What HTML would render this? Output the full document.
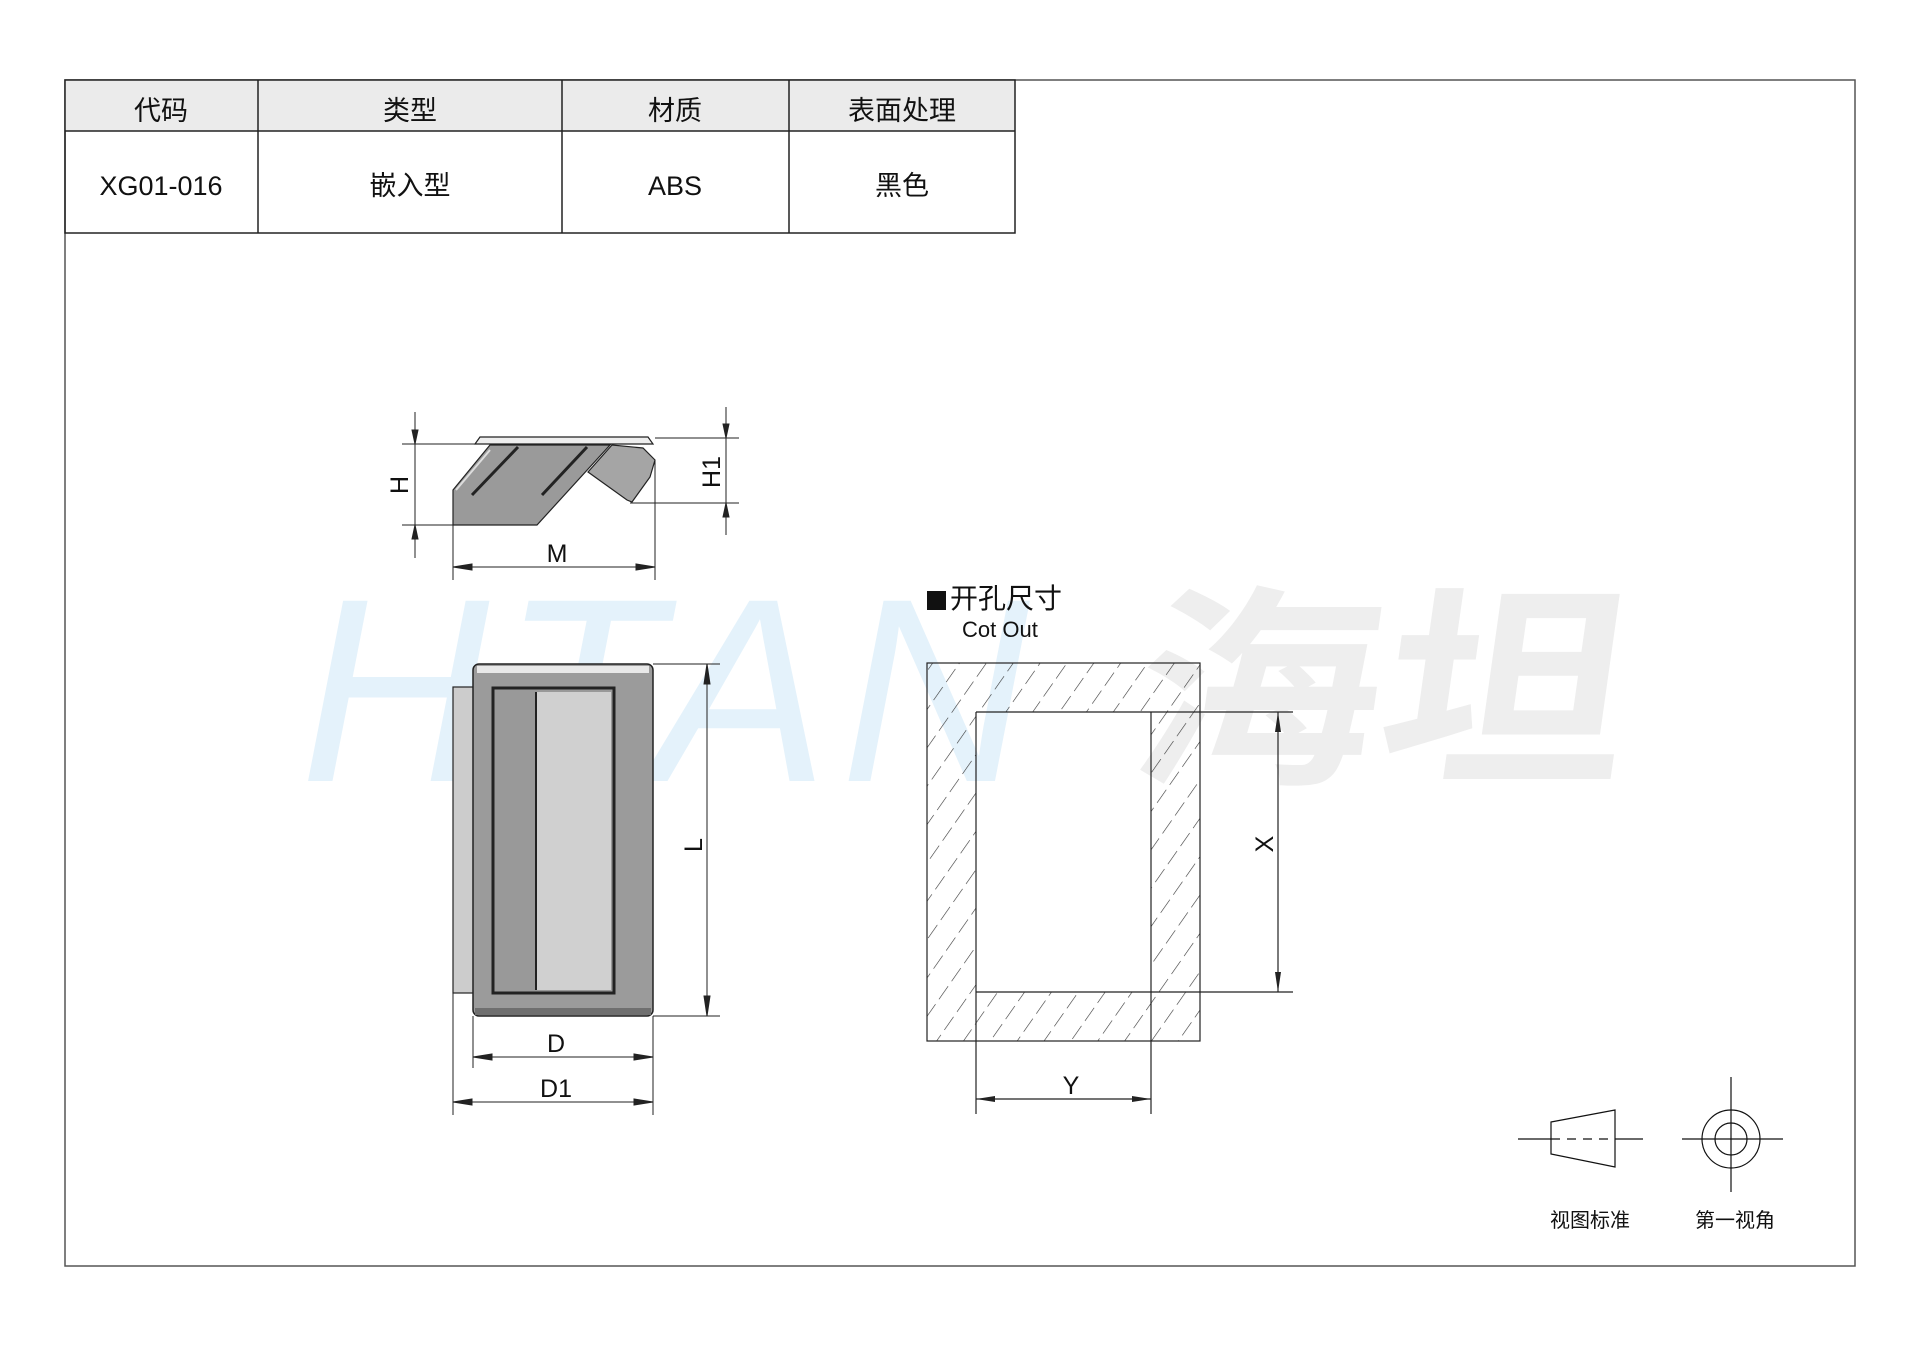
<!DOCTYPE html>
<html><head><meta charset="utf-8"><style>
html,body{margin:0;padding:0;background:#fff;}
body{width:1920px;height:1357px;position:relative;overflow:hidden;font-family:"Liberation Sans","Noto Sans CJK SC",sans-serif;}
svg{position:absolute;left:0;top:0;}
</style></head><body>
<svg width="1920" height="1357" viewBox="0 0 1920 1357" xmlns="http://www.w3.org/2000/svg" font-family="Liberation Sans, Noto Sans CJK SC, sans-serif">
<defs>
<pattern id="hatch" patternUnits="userSpaceOnUse" width="22" height="22" patternTransform="rotate(35)">
<line x1="0" y1="0" x2="0" y2="22" stroke="#333" stroke-width="1.2" stroke-dasharray="16 6"/>
</pattern>
</defs>
<!-- watermark -->
<text x="300" y="781" font-size="262" fill="#e4f2fb" font-style="italic" letter-spacing="12">HTAN</text>
<text x="0" y="0" font-size="215" fill="#eeeeee" font-weight="bold" font-family="Noto Sans CJK SC, sans-serif" transform="translate(1125,768) skewX(-8) scale(1.15,1)">海坦</text>

<!-- frame -->
<rect x="65" y="80" width="1790" height="1186" fill="none" stroke="#555" stroke-width="1.5"/>
<!-- table -->
<rect x="65" y="80" width="950" height="51" fill="#ebebeb"/>
<g stroke="#222" stroke-width="1.5" fill="none">
<rect x="65" y="80" width="950" height="153"/>
<line x1="65" y1="131" x2="1015" y2="131"/>
<line x1="258" y1="80" x2="258" y2="233"/>
<line x1="562" y1="80" x2="562" y2="233"/>
<line x1="789" y1="80" x2="789" y2="233"/>
</g>
<g font-size="27" text-anchor="middle" fill="#111">
<text x="161" y="120">代码</text>
<text x="410" y="120">类型</text>
<text x="675" y="120">材质</text>
<text x="902" y="120">表面处理</text>
<text x="161" y="195">XG01-016</text>
<text x="410" y="195">嵌入型</text>
<text x="675" y="195">ABS</text>
<text x="902" y="195">黑色</text>
</g>

<!-- top view -->
<g stroke="#222" stroke-width="1.2">
<polygon points="453,490 490,445 610,445 537,525 453,525" fill="#9a9a9a"/>
<polygon points="588,472 612,445 643,448 655,460 650,477 632,502 627,500" fill="#a5a5a5"/>
<polygon points="475,444 480,437 648,437 653,444" fill="#eee"/>
<line x1="472" y1="495" x2="518" y2="447" stroke-width="3"/>
<line x1="542" y1="495" x2="587" y2="447" stroke-width="3"/>
<line x1="456" y1="490" x2="490" y2="450" stroke="#ddd" stroke-width="2"/>
</g>
<g stroke="#222" stroke-width="1" fill="#222">
<line x1="415" y1="412" x2="415" y2="558"/>
<line x1="402" y1="444" x2="475" y2="444"/>
<line x1="402" y1="525" x2="453" y2="525"/>
<polygon points="415,444 412,430 418,430"/><polygon points="415,525 412,539 418,539"/>
<line x1="726" y1="407" x2="726" y2="535"/>
<line x1="655" y1="438" x2="739" y2="438"/>
<line x1="630" y1="503" x2="739" y2="503"/>
<polygon points="726,438 723,424 729,424"/><polygon points="726,503 723,517 729,517"/>
<line x1="453" y1="525" x2="453" y2="580"/>
<line x1="655" y1="460" x2="655" y2="580"/>
<line x1="453" y1="567" x2="655" y2="567"/>
<polygon points="453,567 472,564 472,570"/><polygon points="655,567 636,564 636,570"/>
</g>
<g font-size="25" fill="#111" text-anchor="middle">
<text x="557" y="562">M</text>
<text transform="translate(408,485) rotate(-90)">H</text>
<text transform="translate(720,472) rotate(-90)">H1</text>
</g>

<!-- front view -->
<g stroke="#222">
<rect x="453" y="687" width="22" height="306" fill="#ccc" stroke-width="1.2"/>
<rect x="473" y="664" width="180" height="352" rx="6" fill="#9b9b9b" stroke-width="1.5"/>
<rect x="477" y="666" width="172" height="7" fill="#e8e8e8" stroke="none"/>
<rect x="475" y="1008" width="176" height="7" fill="#6f6f6f" stroke="none"/>
<rect x="493" y="688" width="121" height="305" fill="#999" stroke-width="3"/>
<rect x="537" y="692" width="74" height="298" fill="#d0d0d0" stroke="none"/>
<line x1="536" y1="692" x2="536" y2="990" stroke-width="2"/>
</g>
<g stroke="#222" stroke-width="1" fill="#222">
<line x1="653" y1="664" x2="720" y2="664"/>
<line x1="653" y1="1016" x2="720" y2="1016"/>
<line x1="707" y1="664" x2="707" y2="1016"/>
<polygon points="707,664 704,684 710,684"/><polygon points="707,1016 704,996 710,996"/>
<line x1="473" y1="1016" x2="473" y2="1068"/>
<line x1="653" y1="1016" x2="653" y2="1115"/>
<line x1="453" y1="993" x2="453" y2="1115"/>
<line x1="473" y1="1057" x2="653" y2="1057"/>
<polygon points="473,1057 492,1054 492,1060"/><polygon points="653,1057 634,1054 634,1060"/>
<line x1="453" y1="1102" x2="653" y2="1102"/>
<polygon points="453,1102 472,1099 472,1105"/><polygon points="653,1102 634,1099 634,1105"/>
</g>
<g font-size="25" fill="#111" text-anchor="middle">
<text x="556" y="1052">D</text>
<text x="556" y="1097">D1</text>
<text transform="translate(702,845) rotate(-90)">L</text>
</g>

<!-- cutout -->
<rect x="927" y="591" width="19" height="19" fill="#111"/>
<text x="950" y="608" font-size="28" fill="#111">开孔尺寸</text>
<text x="962" y="637" font-size="22" fill="#111">Cot Out</text>
<path d="M927,663 H1200 V1041 H927 Z M976,712 V992 H1151 V712 Z" fill="url(#hatch)" fill-rule="evenodd"/>
<g stroke="#222" stroke-width="1.2" fill="none">
<rect x="927" y="663" width="273" height="378"/>
<line x1="976" y1="712" x2="1293" y2="712"/>
<line x1="976" y1="992" x2="1293" y2="992"/>
<line x1="976" y1="712" x2="976" y2="1114"/>
<line x1="1151" y1="712" x2="1151" y2="1114"/>
<line x1="1278" y1="712" x2="1278" y2="992"/>
<line x1="976" y1="1099" x2="1151" y2="1099"/>
</g>
<g fill="#222">
<polygon points="1278,712 1275,732 1281,732"/><polygon points="1278,992 1275,972 1281,972"/>
<polygon points="976,1099 995,1096 995,1102"/><polygon points="1151,1099 1132,1096 1132,1102"/>
</g>
<g font-size="25" fill="#111" text-anchor="middle">
<text transform="translate(1273,844) rotate(-90)">X</text>
<text x="1071" y="1094">Y</text>
</g>

<!-- projection symbols -->
<g stroke="#111" stroke-width="1.2" fill="none">
<line x1="1518" y1="1139" x2="1551" y2="1139"/>
<line x1="1615" y1="1139" x2="1643" y2="1139"/>
<line x1="1551" y1="1139" x2="1615" y2="1139" stroke-dasharray="9 7"/>
<polygon points="1551,1122 1615,1110 1615,1167 1551,1154"/>
<circle cx="1731" cy="1139" r="29"/>
<circle cx="1731" cy="1139" r="16"/>
<line x1="1731" y1="1077" x2="1731" y2="1192"/>
<line x1="1682" y1="1139" x2="1783" y2="1139"/>
</g>
<g font-size="20" fill="#111" text-anchor="middle">
<text x="1590" y="1227">视图标准</text>
<text x="1735" y="1227">第一视角</text>
</g>
</svg>
</body></html>
